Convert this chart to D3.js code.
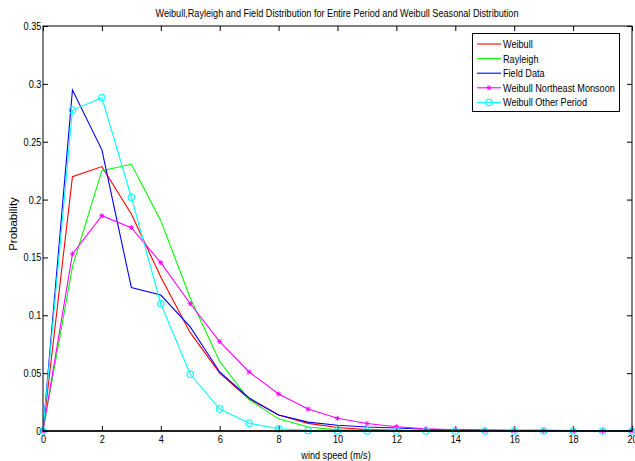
<!DOCTYPE html>
<html lang="en">
<head>
    <meta charset="UTF-8">
    <script src="https://cdn.jsdelivr.net/npm/d3@7"></script>
    <style>
        body { margin: 0; background: #fff; }
        text { font-family: "Liberation Sans", Arial, sans-serif; fill: #000; }
    </style>
</head>
<body>
<svg width="635" height="461"></svg>
<script>
    // wind speed (m/s)
    var speeds = d3.range(0, 21);
    var weibull  = [0, 0.2198, 0.2285, 0.1876, 0.133, 0.085, 0.050, 0.0277, 0.0138, 0.0066, 0.003, 0.0012, 0.0005, 0.0002, 0.0001, 0, 0, 0, 0, 0, 0];
    var rayleigh = [0, 0.142, 0.225, 0.2305, 0.1818, 0.115, 0.060, 0.027, 0.0105, 0.0035, 0.001, 0.0003, 0.0001, 0, 0, 0, 0, 0, 0, 0, 0];
    var field    = [0, 0.2947, 0.243, 0.1239, 0.1175, 0.090, 0.051, 0.0285, 0.0138, 0.0077, 0.005, 0.0035, 0.0026, 0.0015, 0.001, 0.0008, 0.0006, 0.0005, 0.0004, 0.0003, 0.0003];
    var neMonsoon = [0, 0.153, 0.186, 0.1757, 0.1455, 0.110, 0.0772, 0.051, 0.032, 0.019, 0.011, 0.0065, 0.0037, 0.002, 0.001, 0.0005, 0.0003, 0.0001, 0, 0, 0];
    var otherPeriod = [0, 0.2774, 0.288, 0.202, 0.110, 0.049, 0.019, 0.0067, 0.002, 0.0005, 0.0001, 0, 0, 0, 0, 0, 0, 0, 0, 0, 0];
    var xTicks = [0, 2, 4, 6, 8, 10, 12, 14, 16, 18, 20];
    var yTicks = [0, 0.05, 0.1, 0.15, 0.2, 0.25, 0.3, 0.35];

    var series = [
        {name: "Weibull", values: weibull, color: "#ff0000", marker: null},
        {name: "Rayleigh", values: rayleigh, color: "#00ff00", marker: null},
        {name: "Field Data", values: field, color: "#0000ff", marker: null},
        {name: "Weibull Northeast Monsoon", values: neMonsoon, color: "#ff00ff", marker: "star"},
        {name: "Weibull Other Period", values: otherPeriod, color: "#00ffff", marker: "circle"}
    ];

    var svg = d3.select("svg");
    var plot = {left: 43, top: 26, right: 632, bottom: 431};
    var x = d3.scaleLinear().domain([0, 20]).range([plot.left, plot.right]);
    var y = d3.scaleLinear().domain([0, 0.35]).range([plot.bottom, plot.top]);
    // the figure text is squeezed sideways
    var squeeze = 0.83;

    function narrowText(parent, tx, ty, anchor, str) {
        return parent.append("text")
            .attr("transform", "translate(" + tx + "," + ty + ") scale(" + squeeze + ",1)")
            .attr("text-anchor", anchor)
            .style("font-size", "11px")
            .text(str);
    }

    // title
    narrowText(svg, 337, 17, "middle", "Weibull,Rayleigh and Field Distribution for Entire Period and Weibull Seasonal Distribution");

    // axes with inward ticks
    var tickLen = 5;
    var fmt = function (d) { return d === 0 ? "0" : d3.format("~g")(d); };
    function styleLabels(g) {
        g.select(".domain").remove();
        g.selectAll("line").attr("stroke", "#000");
        g.selectAll("text")
            .style("font-size", "11px")
            .style("font-family", "Liberation Sans, Arial, sans-serif")
            .attr("transform", "scale(" + squeeze + ",1)");
    }
    svg.append("g").attr("transform", "translate(0," + plot.bottom + ")")
        .call(d3.axisBottom(x).tickValues(xTicks).tickSize(-tickLen).tickPadding(4))
        .call(styleLabels);
    svg.append("g").attr("transform", "translate(0," + plot.top + ")")
        .call(d3.axisTop(x).tickValues(xTicks).tickSize(-tickLen).tickFormat(""))
        .call(styleLabels);
    svg.append("g").attr("transform", "translate(" + plot.left + ",0)")
        .call(d3.axisLeft(y).tickValues(yTicks).tickSize(-tickLen).tickPadding(2).tickFormat(fmt))
        .call(styleLabels);
    svg.append("g").attr("transform", "translate(" + plot.right + ",0)")
        .call(d3.axisRight(y).tickValues(yTicks).tickSize(-tickLen).tickFormat(""))
        .call(styleLabels);

    // axis labels
    narrowText(svg, 336, 459, "middle", "wind speed (m/s)");
    svg.append("text")
        .attr("transform", "translate(17,224) rotate(-90)")
        .attr("text-anchor", "middle")
        .style("font-size", "11.5px")
        .text("Probability");

    // lines
    var line = d3.line()
        .x(function (d, i) { return x(speeds[i]); })
        .y(function (d) { return y(d); });

    function star(g, cx, cy, color) {
        var r = 2.5, rd = 1.8;
        var p = "M" + (cx - r) + "," + cy + "h" + (2 * r) +
            "M" + cx + "," + (cy - r) + "v" + (2 * r) +
            "M" + (cx - rd) + "," + (cy - rd) + "l" + (2 * rd) + "," + (2 * rd) +
            "M" + (cx - rd) + "," + (cy + rd) + "l" + (2 * rd) + "," + (-2 * rd);
        g.append("path").attr("d", p).attr("stroke", color).attr("stroke-width", 1).attr("fill", "none");
    }

    series.forEach(function (s) {
        var g = svg.append("g");
        g.append("path")
            .datum(s.values)
            .attr("d", line)
            .attr("fill", "none")
            .attr("stroke", s.color)
            .attr("stroke-width", 1.1);
        if (s.marker === "circle") {
            g.selectAll("circle").data(s.values).enter().append("circle")
                .attr("cx", function (d, i) { return x(speeds[i]); })
                .attr("cy", function (d) { return y(d); })
                .attr("r", 3.2)
                .attr("fill", "none")
                .attr("stroke", s.color)
                .attr("stroke-width", 1.1);
        } else if (s.marker === "star") {
            s.values.forEach(function (d, i) { star(g, x(speeds[i]), y(d), s.color); });
        }
    });

    // box
    svg.append("rect")
        .attr("x", plot.left).attr("y", plot.top)
        .attr("width", plot.right - plot.left).attr("height", plot.bottom - plot.top)
        .attr("fill", "none").attr("stroke", "#000").attr("stroke-width", 1);
    svg.append("line")
        .attr("x1", plot.left).attr("x2", plot.right)
        .attr("y1", plot.bottom).attr("y2", plot.bottom)
        .attr("stroke", "#000").attr("stroke-width", 1.5);

    // legend
    var leg = svg.append("g");
    leg.append("rect")
        .attr("x", 472.5).attr("y", 33.5).attr("width", 147).attr("height", 78)
        .attr("fill", "#fff").attr("stroke", "#000").attr("stroke-width", 1);
    series.forEach(function (s, i) {
        var ly = 44 + i * 14.6;
        leg.append("line")
            .attr("x1", 477).attr("x2", 501).attr("y1", ly).attr("y2", ly)
            .attr("stroke", s.color).attr("stroke-width", 1.1);
        if (s.marker === "circle") {
            leg.append("circle").attr("cx", 489).attr("cy", ly).attr("r", 3.2)
                .attr("fill", "none").attr("stroke", s.color).attr("stroke-width", 1.1);
        } else if (s.marker === "star") {
            star(leg, 489, ly, s.color);
        }
        narrowText(leg, 503, ly + 4, "start", s.name);
    });
</script>
</body>
</html>
